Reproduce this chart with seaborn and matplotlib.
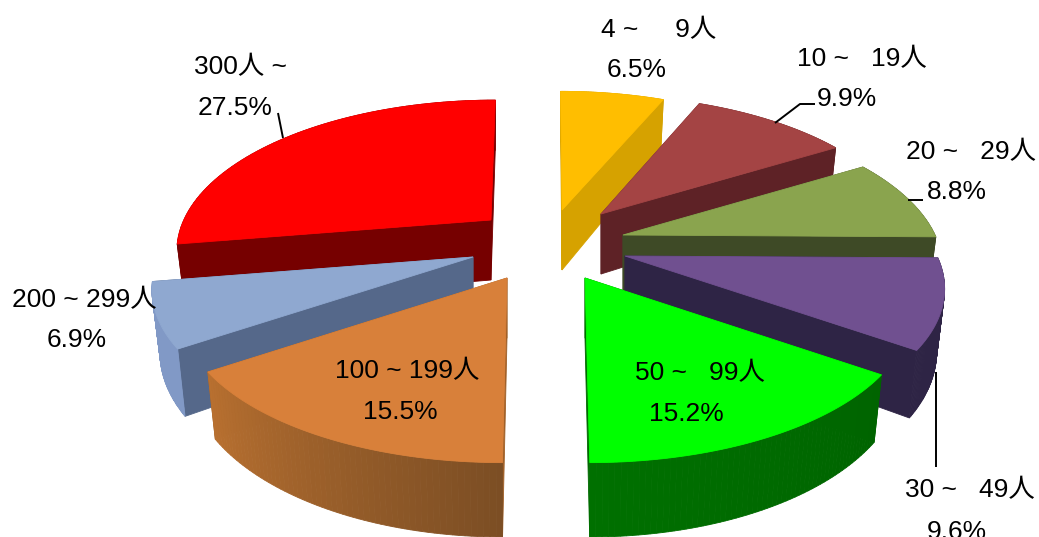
import numpy as np
import matplotlib
matplotlib.use("Agg")
import matplotlib.pyplot as plt
from matplotlib.patches import Polygon
import seaborn as sns

# Share of establishments by number of employees (percent), clockwise from 12 o'clock
size_labels = ["4 ~     9人", "10 ~   19人", "20 ~   29人", "30 ~   49人",
               "50 ~   99人", "100 ~ 199人", "200 ~ 299人", "300人 ~"]
shares = [6.5, 9.9, 8.8, 9.6, 15.2, 15.5, 6.9, 27.5]

# Colours of each slice: top face, cut face, rim at its two ends
top_colors = ["#FFBE00", "#A44444", "#8AA44E", "#705090",
              "#00FF00", "#D8803A", "#8FA8D0", "#FF0000"]
cut_colors = ["#D6A200", "#5E2226", "#3E4A26", "#2E2445",
              "#006A00", "#A06028", "#55688A", "#760000"]
rim_colors = [("#D6A200", "#D6A200"), ("#5E2226", "#5E2226"), ("#3E4A26", "#3E4A26"),
              ("#2E2445", "#2E2445"), ("#007000", "#006400"), ("#B87030", "#7C4E24"),
              ("#8199C6", "#8199C6"), ("#760000", "#760000")]

# Apex of each exploded slice on the canvas, with its radius scale
apexes = [(562, 210), (601, 214), (623, 235), (625, 256),
          (585, 278), (507, 278), (473, 257), (491, 220)]
radius_scale = [0.95, 0.95, 0.975, 0.975, 1.0, 1.0, 0.98, 0.96]
# Drawing order, farthest first
paint_order = [7, 6, 5, 0, 1, 2, 3, 4]

# Perspective camera
RX, RY, PERSP, DEPTH, PIE_CX, FAN, BASE_SHRINK = 320, 149, 0.193, 60, 545, 0.5, 0.975

sns.set_theme(style="white")
plt.rcParams["font.family"] = ["Liberation Sans", "Noto Sans CJK JP"]

fig = plt.figure(figsize=(10.39, 5.37), dpi=100)
ax = fig.add_axes([0, 0, 1, 1])
ax.set_xlim(0, 1039)
ax.set_ylim(537, 0)
ax.axis("off")


def project(apex, scale, theta):
    """Top-face and base points of the rim at angle theta (radians, clockwise from north)."""
    w = 1 / (1 + PERSP * np.cos(theta))
    dx = RX * scale * np.sin(theta) * w + (apex[0] - PIE_CX) * (w - 1) * FAN
    top = np.column_stack([apex[0] + dx, apex[1] - RY * scale * np.cos(theta) * w])
    base = np.column_stack([apex[0] + dx * BASE_SHRINK, top[:, 1] + DEPTH * w])
    return top, base


def solid(points, color):
    ax.add_patch(Polygon(points, closed=True, facecolor=color, edgecolor=color, linewidth=0.6))


edges = np.radians(np.concatenate([[0], np.cumsum(shares)]) * 3.6)
edges[-1] = 2 * np.pi

for i in paint_order:
    apex = np.array(apexes[i], dtype=float)
    apex_base = apex + [0, DEPTH]
    thetas = np.linspace(edges[i], edges[i + 1], 61)
    top, base = project(apex, radius_scale[i], thetas)

    # Cut faces first, the rim and top face then cover whatever is hidden
    solid([apex, top[0], base[0], apex_base], cut_colors[i])
    solid([apex, top[-1], base[-1], apex_base], cut_colors[i])

    # Rim shaded in narrow strips, running left to right on screen
    ramp = sns.blend_palette(rim_colors[i], len(thetas) - 1)
    if top[0, 0] > top[-1, 0]:
        ramp = ramp[::-1]
    for k in range(len(thetas) - 1):
        solid([top[k], top[k + 1], base[k + 1], base[k]], ramp[k])

    solid(np.vstack([apex, top]), top_colors[i])

# Leader lines
leaders = [([775, 800, 815], [123, 104, 104]), ([908, 923], [200, 200]),
           ([936, 936], [372, 467]), ([278, 283], [113, 138])]
for xs, ys in leaders:
    ax.plot(xs, ys, color="black", lw=1.4, solid_capstyle="butt")

# Category and percentage labels, placed per slice
name_xy = [(659, 30), (862, 59), (971, 152), (970, 490), (700, 373), (407, 371), (84, 300), (240, 67)]
pct_xy = [(637, 70), (847, 99), (957, 192), (957, 532), (686, 414), (400, 412), (77, 340), (235, 108)]
for i, value in enumerate(shares):
    ax.text(*name_xy[i], size_labels[i], fontsize=19, ha="center", va="center", color="black")
    ax.text(*pct_xy[i], f"{value:.1f}%", fontsize=19, ha="center", va="center", color="black")

fig.savefig("out.png", dpi=100, facecolor="white")
